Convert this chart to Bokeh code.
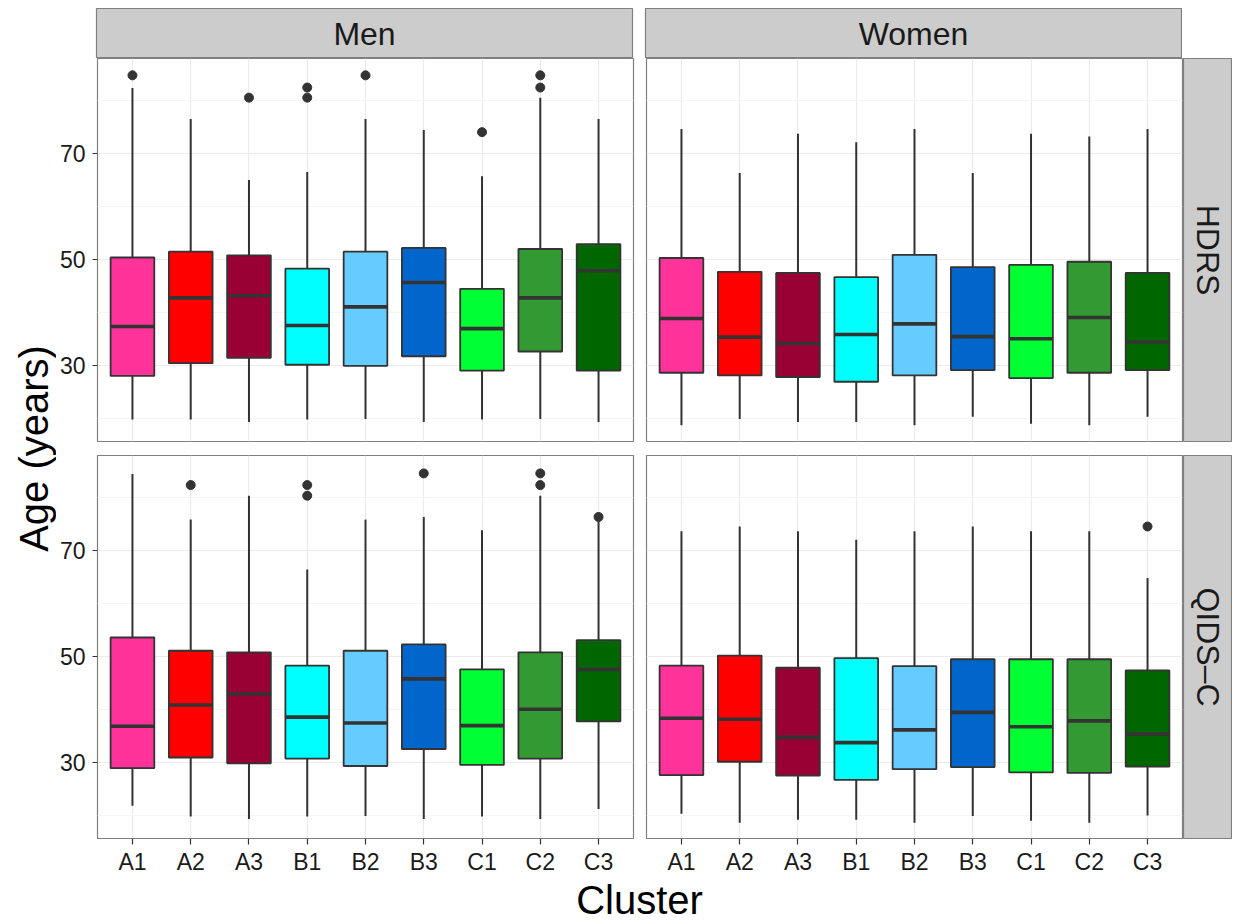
import math
from bokeh.plotting import figure
from bokeh.layouts import row, column, Spacer
from bokeh.models import FactorRange, Range1d, FixedTicker, ColumnDataSource
from bokeh.core.properties import value
from bokeh.embed import file_html
from bokeh.resources import INLINE

FONT = "Liberation Sans"

clusters = ["A1", "A2", "A3", "B1", "B2", "B3", "C1", "C2", "C3"]
colors = ["#FF3399", "#FF0000", "#990033", "#00FFFF", "#66CCFF",
          "#0066CC", "#00FF33", "#339933", "#006600"]
y_ticks = [30, 50, 70]
y_minor = [20, 40, 60, 80]

# Men / HDRS
men_hdrs_low = [19.9, 19.9, 19.4, 19.9, 20.0, 19.4, 19.9, 20.0, 19.4]
men_hdrs_q1 = [28.1, 30.5, 31.5, 30.2, 30.0, 31.8, 29.1, 32.7, 29.1]
men_hdrs_med = [37.4, 42.8, 43.2, 37.6, 41.1, 45.7, 37.0, 42.8, 47.9]
men_hdrs_q3 = [50.4, 51.5, 50.8, 48.3, 51.5, 52.2, 44.5, 52.0, 52.9]
men_hdrs_high = [82.3, 76.5, 65.0, 66.5, 76.5, 74.4, 65.7, 80.5, 76.5]
men_hdrs_out_x = ["A1", "A3", "B1", "B1", "B2", "C1", "C2", "C2"]
men_hdrs_out_y = [84.7, 80.5, 82.4, 80.5, 84.7, 74.0, 84.7, 82.4]

# Women / HDRS
women_hdrs_low = [18.8, 20.0, 19.4, 19.4, 18.8, 20.4, 19.1, 18.8, 20.4]
women_hdrs_q1 = [28.7, 28.2, 27.9, 27.0, 28.2, 29.2, 27.7, 28.7, 29.2]
women_hdrs_med = [38.9, 35.4, 34.2, 35.9, 37.9, 35.5, 35.1, 39.1, 34.5]
women_hdrs_q3 = [50.3, 47.7, 47.5, 46.7, 50.9, 48.6, 49.0, 49.6, 47.5]
women_hdrs_high = [74.6, 66.3, 73.7, 72.1, 74.6, 66.3, 73.7, 73.2, 74.6]
women_hdrs_out_x = []
women_hdrs_out_y = []

# Men / QIDS-C
men_qids_low = [21.9, 19.9, 19.4, 19.9, 20.0, 19.4, 19.9, 19.4, 21.3]
men_qids_q1 = [29.0, 31.0, 29.9, 30.8, 29.4, 32.6, 29.6, 30.8, 37.8]
men_qids_med = [36.9, 40.9, 43.0, 38.6, 37.5, 45.8, 37.0, 40.1, 47.6]
men_qids_q3 = [53.6, 51.1, 50.8, 48.3, 51.1, 52.3, 47.6, 50.8, 53.1]
men_qids_high = [84.4, 75.8, 80.3, 66.4, 75.8, 76.3, 73.8, 80.3, 75.6]
men_qids_out_x = ["A2", "B1", "B1", "B3", "C2", "C2", "C3"]
men_qids_out_y = [82.3, 82.3, 80.3, 84.5, 84.5, 82.3, 76.3]

# Women / QIDS-C
women_qids_low = [20.4, 18.7, 19.3, 19.3, 18.7, 20.0, 19.1, 18.7, 20.1]
women_qids_q1 = [27.7, 30.2, 27.6, 26.8, 28.8, 29.2, 28.2, 28.1, 29.3]
women_qids_med = [38.4, 38.2, 34.8, 33.8, 36.2, 39.5, 36.8, 37.9, 35.4]
women_qids_q3 = [48.3, 50.2, 47.9, 49.7, 48.2, 49.5, 49.5, 49.5, 47.4]
women_qids_high = [73.6, 74.5, 73.6, 72.0, 73.6, 74.5, 73.6, 73.6, 64.8]
women_qids_out_x = ["C3"]
women_qids_out_y = [74.5]

Y_START, Y_END = 15.75, 87.87
FRAME_W, FRAME_H = 536, 383
DARK = "#333333"
BORDER = "#7F7F7F"
BOTTOM_AXIS = 36


def panel(low, q1, med, q3, high, out_x, out_y, show_x, show_y,
          mbl, mbr, mbt, mbb):
    p = figure(
        x_range=FactorRange(factors=clusters, range_padding=0.1,
                            range_padding_units="absolute"),
        y_range=Range1d(Y_START, Y_END),
        frame_width=FRAME_W, frame_height=FRAME_H,
        min_border_left=mbl, min_border_right=mbr,
        min_border_top=mbt, min_border_bottom=mbb,
        x_axis_location="below" if show_x else None,
        y_axis_location="left" if show_y else None,
        title=None, tools="", toolbar_location=None,
        output_backend="svg",
    )
    p.background_fill_color = "white"
    p.border_fill_color = "white"
    p.outline_line_color = BORDER
    p.outline_line_width = 1.2

    p.ygrid.ticker = FixedTicker(ticks=y_ticks, minor_ticks=y_minor)
    p.ygrid.grid_line_color = "#EBEBEB"
    p.ygrid.grid_line_width = 1.2
    p.ygrid.minor_grid_line_color = "#F5F5F5"
    p.ygrid.minor_grid_line_width = 1.2
    p.xgrid.grid_line_color = "#EBEBEB"
    p.xgrid.grid_line_width = 1.2

    src = ColumnDataSource(dict(x=clusters, low=low, q1=q1, med=med,
                                q3=q3, high=high, color=colors))
    p.segment(x0="x", y0="q3", x1="x", y1="high", source=src,
              line_color=DARK, line_width=2)
    p.segment(x0="x", y0="low", x1="x", y1="q1", source=src,
              line_color=DARK, line_width=2)
    p.vbar(x="x", width=0.75, bottom="q1", top="q3", source=src,
           fill_color="color", line_color=DARK, line_width=1.8)
    p.rect(x="x", y="med", width=0.75, height=3.6, height_units="screen",
           source=src, fill_color=DARK, line_color=None)
    if out_x:
        p.scatter(x=out_x, y=out_y, size=9, fill_color=DARK,
                  line_color=DARK)

    if show_y:
        ax = p.yaxis[0]
        ax.ticker = FixedTicker(ticks=y_ticks, minor_ticks=y_minor)
        ax.axis_line_color = None
        ax.major_tick_line_color = DARK
        ax.major_tick_line_width = 1.2
        ax.major_tick_out = 5
        ax.major_tick_in = 0
        ax.minor_tick_line_color = None
        ax.major_label_standoff = 7
        ax.major_label_text_font = FONT
        ax.major_label_text_font_size = "23px"
        ax.major_label_text_color = "#1A1A1A"
    if show_x:
        ax = p.xaxis[0]
        ax.axis_line_color = None
        ax.major_tick_line_color = DARK
        ax.major_tick_line_width = 1.2
        ax.major_tick_out = 6
        ax.major_tick_in = 0
        ax.minor_tick_line_color = None
        ax.major_label_standoff = 4
        ax.major_label_text_font = FONT
        ax.major_label_text_font_size = "23px"
        ax.major_label_text_color = "#1A1A1A"
    return p


def strip(text, fw, fh, mbl, mbr, mbt, mbb, angle=0.0):
    s = figure(
        x_range=Range1d(0, 1), y_range=Range1d(0, 1),
        frame_width=fw, frame_height=fh,
        min_border_left=mbl, min_border_right=mbr,
        min_border_top=mbt, min_border_bottom=mbb,
        x_axis_type=None, y_axis_type=None,
        title=None, tools="", toolbar_location=None,
        output_backend="svg",
    )
    s.background_fill_color = "#CCCCCC"
    s.border_fill_color = "white"
    s.outline_line_color = BORDER
    s.outline_line_width = 1.2
    s.text(x=[0.5], y=[0.5], text=[text], angle=angle,
           text_align="center", text_baseline="middle",
           text_font=value(FONT), text_font_size="32px",
           text_color="#1A1A1A")
    return s


strip_men = strip("Men", FRAME_W, 50, 40, 6, 8, 0)
strip_women = strip("Women", FRAME_W, 50, 7, 1, 8, 0)
corner = Spacer(width=49, height=58)

p11 = panel(men_hdrs_low, men_hdrs_q1, men_hdrs_med, men_hdrs_q3,
            men_hdrs_high, men_hdrs_out_x, men_hdrs_out_y,
            False, True, 40, 6, 0, 7)
p12 = panel(women_hdrs_low, women_hdrs_q1, women_hdrs_med, women_hdrs_q3,
            women_hdrs_high, women_hdrs_out_x, women_hdrs_out_y,
            False, False, 7, 1, 0, 7)
strip_hdrs = strip("HDRS", 48, FRAME_H, 0, 1, 0, 7, angle=-math.pi / 2)

p21 = panel(men_qids_low, men_qids_q1, men_qids_med, men_qids_q3,
            men_qids_high, men_qids_out_x, men_qids_out_y,
            True, True, 40, 6, 7, BOTTOM_AXIS)
p22 = panel(women_qids_low, women_qids_q1, women_qids_med, women_qids_q3,
            women_qids_high, women_qids_out_x, women_qids_out_y,
            True, False, 7, 1, 7, BOTTOM_AXIS)
strip_qids = strip("QIDS\u2013C", 48, FRAME_H, 0, 1, 7, BOTTOM_AXIS,
                   angle=-math.pi / 2)

XL_W, XL_H = 582 + 544 + 49, 46
xlabel = figure(x_range=Range1d(0, XL_W), y_range=Range1d(0, XL_H),
                frame_width=XL_W, frame_height=XL_H,
                min_border_left=0, min_border_right=0,
                min_border_top=0, min_border_bottom=0,
                x_axis_type=None, y_axis_type=None, title=None,
                tools="", toolbar_location=None, output_backend="svg")
xlabel.outline_line_color = None
xlabel.text(x=[583], y=[24], text=["Cluster"], text_align="center",
            text_baseline="middle", text_font=value(FONT),
            text_font_size="40px", text_color="black")

YL_W, YL_H = 56, 58 + 390 + (7 + FRAME_H + BOTTOM_AXIS) + XL_H
ylabel = figure(x_range=Range1d(0, YL_W), y_range=Range1d(0, YL_H),
                frame_width=YL_W, frame_height=YL_H,
                min_border_left=0, min_border_right=0,
                min_border_top=0, min_border_bottom=0,
                x_axis_type=None, y_axis_type=None, title=None,
                tools="", toolbar_location=None, output_backend="svg")
ylabel.outline_line_color = None
ylabel.text(x=[33], y=[YL_H - 448], text=["Age (years)"],
            angle=math.pi / 2, text_align="center",
            text_baseline="middle", text_font=value(FONT),
            text_font_size="40px", text_color="black")

grid = column(
    row(strip_men, strip_women, corner),
    row(p11, p12, strip_hdrs),
    row(p21, p22, strip_qids),
    xlabel,
)
layout = row(ylabel, grid)

open("out.html", "w").write(file_html(layout, INLINE))
